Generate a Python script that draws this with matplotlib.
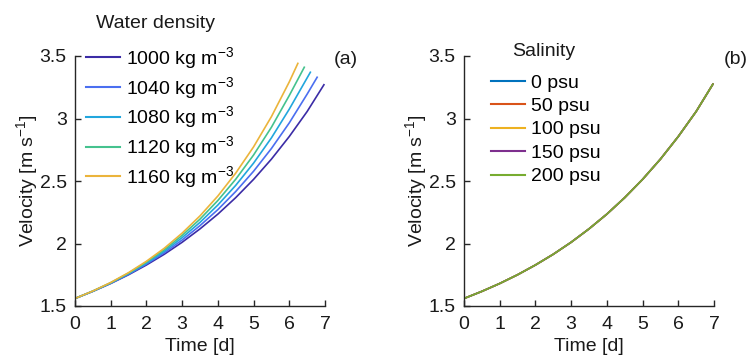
import matplotlib
matplotlib.use("Agg")
import matplotlib.pyplot as plt

plt.rcParams['font.family'] = ['Liberation Sans', 'DejaVu Sans']
plt.rcParams['mathtext.fontset'] = 'custom'
plt.rcParams['mathtext.rm'] = 'Liberation Sans'
plt.rcParams['mathtext.it'] = 'Liberation Sans:italic'
plt.rcParams['mathtext.default'] = 'regular'

# ---- data (a): water density ----
density_title = "Water density"
density_labels = ["1000 kg m$^{-3}$", "1040 kg m$^{-3}$", "1080 kg m$^{-3}$",
                  "1120 kg m$^{-3}$", "1160 kg m$^{-3}$"]
density_colors = ["#3b2ca6", "#4b6ff0", "#22a6dd", "#45c28e", "#ebb43b"]

t_1000 = [0, 0.5, 1, 1.5, 2, 2.5, 3, 3.5, 4, 4.5, 5, 5.5, 6, 6.5, 6.97]
v_1000 = [1.560, 1.617, 1.680, 1.750, 1.828, 1.914, 2.010, 2.117, 2.235, 2.367, 2.513, 2.675, 2.856, 3.056, 3.270]
t_1040 = [0, 0.5, 1, 1.5, 2, 2.5, 3, 3.5, 4, 4.5, 5, 5.5, 6, 6.5, 6.78]
v_1040 = [1.560, 1.618, 1.682, 1.754, 1.836, 1.926, 2.028, 2.143, 2.271, 2.416, 2.578, 2.760, 2.965, 3.195, 3.330]
t_1080 = [0, 0.5, 1, 1.5, 2, 2.5, 3, 3.5, 4, 4.5, 5, 5.5, 6, 6.59]
v_1080 = [1.560, 1.619, 1.684, 1.759, 1.843, 1.938, 2.047, 2.169, 2.308, 2.465, 2.643, 2.845, 3.075, 3.370]
t_1120 = [0, 0.5, 1, 1.5, 2, 2.5, 3, 3.5, 4, 4.5, 5, 5.5, 6, 6.42]
v_1120 = [1.560, 1.619, 1.686, 1.763, 1.851, 1.950, 2.065, 2.195, 2.344, 2.514, 2.708, 2.930, 3.184, 3.410]
t_1160 = [0, 0.5, 1, 1.5, 2, 2.5, 3, 3.5, 4, 4.5, 5, 5.5, 6, 6.24]
v_1160 = [1.560, 1.620, 1.688, 1.767, 1.858, 1.962, 2.083, 2.221, 2.380, 2.563, 2.773, 3.015, 3.293, 3.441]

density_t = [t_1000, t_1040, t_1080, t_1120, t_1160]
density_v = [v_1000, v_1040, v_1080, v_1120, v_1160]

# ---- data (b): salinity ----
salinity_title = "Salinity"
salinity_labels = ["0 psu", "50 psu", "100 psu", "150 psu", "200 psu"]
salinity_colors = ["#0072BD", "#D95319", "#EDB120", "#7E2F8E", "#77AC30"]
t_sal = [0, 0.5, 1, 1.5, 2, 2.5, 3, 3.5, 4, 4.5, 5, 5.5, 6, 6.5, 6.97]
v_sal = [1.560, 1.617, 1.680, 1.750, 1.828, 1.914, 2.010, 2.117, 2.235, 2.367, 2.513, 2.675, 2.856, 3.056, 3.275]

xticks = [0, 1, 2, 3, 4, 5, 6, 7]
yticks = [1.5, 2, 2.5, 3, 3.5]
ytick_labels = ["1.5", "2", "2.5", "3", "3.5"]

W, H = 748, 357
fig = plt.figure(figsize=(W / 100, H / 100), dpi=100)
FS = 14
spine_c = "#262626"
txt_c = "#1a1a1a"

ax1 = fig.add_axes([75 / W, 1 - 306 / H, 250 / W, 250 / H])
ax2 = fig.add_axes([464 / W, 1 - 306 / H, 250 / W, 250 / H])

for t, v, c, lab in zip(density_t, density_v, density_colors, density_labels):
    ax1.plot(t, v, color=c, lw=1.2, label=lab)
for c, lab in zip(salinity_colors, salinity_labels):
    ax2.plot(t_sal, v_sal, color=c, lw=1.2, label=lab)

for ax in (ax1, ax2):
    ax.set_xlim(0, 7)
    ax.set_ylim(1.5, 3.5)
    ax.set_xticks(xticks)
    ax.set_yticks(yticks)
    ax.set_yticklabels(ytick_labels)
    ax.spines['top'].set_visible(False)
    ax.spines['right'].set_visible(False)
    for s in ('left', 'bottom'):
        ax.spines[s].set_color(spine_c)
        ax.spines[s].set_linewidth(1.0)
    ax.tick_params(direction='in', length=4, width=1.0, colors=spine_c,
                   labelcolor=txt_c, labelsize=FS)
    ax.tick_params(axis='x', pad=7)
    ax.tick_params(axis='y', pad=6)
    ax.set_xlabel("Time [d]", fontsize=FS, color=txt_c, labelpad=4)
    ax.set_ylabel("Velocity [m s$^{-1}$]", fontsize=FS, color=txt_c, labelpad=0)
    ax.patch.set_alpha(0)

leg1 = ax1.legend(loc='upper left', bbox_to_anchor=(86 / W, 1 - 45 / H),
                  bbox_transform=fig.transFigure, frameon=False, fontsize=FS,
                  borderpad=0, borderaxespad=0, handlelength=1.75,
                  handletextpad=0.3, labelspacing=0.2)
leg2 = ax2.legend(loc='upper left', bbox_to_anchor=(491 / W, 1 - 74 / H),
                  bbox_transform=fig.transFigure, frameon=False, fontsize=FS,
                  borderpad=0, borderaxespad=0, handlelength=1.75,
                  handletextpad=0.3, labelspacing=0.3)
for leg in (leg1, leg2):
    for line in leg.get_lines():
        line.set_linewidth(1.5)

fig.text(156 / W, 1 - 23 / H, density_title, fontsize=FS, color=txt_c,
         ha='center', va='center')
fig.text(544 / W, 1 - 52 / H, salinity_title, fontsize=FS, color=txt_c,
         ha='center', va='center')

ax1.text(1.035, 0.988, "(a)", transform=ax1.transAxes, fontsize=FS,
         color=txt_c, ha='left', va='center')
ax2.text(1.04, 0.988, "(b)", transform=ax2.transAxes, fontsize=FS,
         color=txt_c, ha='left', va='center')

fig.savefig("out.png", dpi=100)
